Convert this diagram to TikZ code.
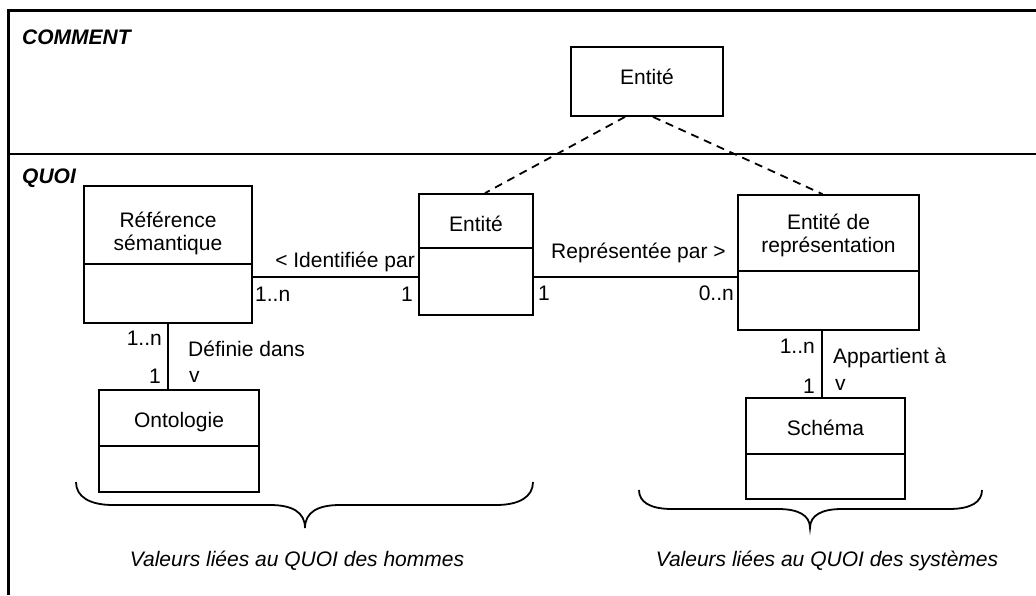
\documentclass[tikz,border=0pt]{standalone}
\usepackage{fontspec}
\setmainfont{Liberation Sans}
\begin{document}
\begin{tikzpicture}[x=1pt,y=-1pt,
  cls/.style={draw, line width=1.8pt, rectangle, inner sep=0pt},
  frm/.style={line width=2.6pt},
  sep/.style={line width=2pt},
  conn/.style={line width=1.8pt},
  dep/.style={line width=1.8pt, dash pattern=on 8pt off 6pt},
  lbl/.style={inner sep=0pt, font=\fontsize{21}{23}\selectfont, align=center},
  ttl/.style={inner sep=0pt, font=\fontsize{21}{23}\selectfont\bfseries\itshape},
  captxt/.style={inner sep=0pt, font=\fontsize{21}{23}\selectfont\itshape},
  brc/.style={line width=1.8pt}
]
\useasboundingbox (0,0) rectangle (1036,595);

% frame
\draw[frm] (1036,10.5) -- (8.7,10.5) -- (8.7,595);
\draw[sep] (8.7,154.3) -- (1036,154.3);
\node[ttl, anchor=base west] (comment) at (22,44) {COMMENT};
\node[ttl, anchor=base west] (quoi) at (22,183) {QUOI};

% boxes
\node[cls, minimum width=152pt, minimum height=69pt] (top) at (647,81.5) {};
\node[lbl, anchor=base] (toptxt) at (647,84) {Entité};

\node[cls, minimum width=168pt, minimum height=137pt] (ref) at (168,254.5) {};
\draw[conn] (84,264) -- (252,264);
\node[lbl] (reftxt) at (168,233) {Référence\\sémantique};

\node[cls, minimum width=114pt, minimum height=121pt] (ent) at (476,254.5) {};
\draw[conn] (419,248) -- (533,248);
\node[lbl, anchor=base] (enttxt) at (476,231) {Entité};

\node[cls, minimum width=181pt, minimum height=135pt] (rep) at (828.5,262.5) {};
\draw[conn] (738,271) -- (919,271);
\node[lbl] (reptxt) at (828.5,235) {Entité de\\représentation};

\node[cls, minimum width=160pt, minimum height=102pt] (onto) at (179,441) {};
\draw[conn] (99,446) -- (259,446);
\node[lbl, anchor=base] (ontotxt) at (179,427) {Ontologie};

\node[cls, minimum width=159pt, minimum height=101pt] (sch) at (825.5,448.5) {};
\draw[conn] (746,454) -- (905,454);
\node[lbl, anchor=base] (schtxt) at (825.5,435) {Schéma};

% dependencies
\draw[dep] ([xshift=-22pt]top.south) -- ([xshift=9pt]ent.north);
\draw[dep] ([xshift=6pt]top.south) -- ([xshift=-6pt]rep.north);

% associations
\draw[conn] ([yshift=-22.5pt]ref.east) -- ([yshift=-22.5pt]ent.west);
\draw[conn] ([yshift=-22.5pt]ent.east) -- ([yshift=-22.5pt]ent.east -| rep.west);
\draw[conn] (ref.south) -- (ref.south |- onto.north);
\draw[conn] ([xshift=-3.5pt]sch.north |- rep.south) -- ([xshift=-3.5pt]sch.north);

% association labels
\node[lbl, anchor=base east] (l1) at (415,267) {< Identifiée par};
\node[lbl, anchor=base west] (l2) at (551,258) {Représentée par >};
\node[lbl, anchor=base west] (m1) at (255,301) {1..n};
\node[lbl, anchor=base east] (m2) at (413,301) {1};
\node[lbl, anchor=base west] (m3) at (538,300) {1};
\node[lbl, anchor=base east] (m4) at (734,300) {0..n};

\node[lbl, anchor=base east] (m5) at (162,345) {1..n};
\node[lbl, anchor=base east] (m6) at (161,383) {1};
\node[lbl, anchor=base west] (l3) at (188,356) {Définie dans};
\node[lbl, anchor=base west] (l4) at (189,382) {v};

\node[lbl, anchor=base east] (m7) at (815,353) {1..n};
\node[lbl, anchor=base east] (m8) at (815,393) {1};
\node[lbl, anchor=base west] (l5) at (833,363) {Appartient à};
\node[lbl, anchor=base west] (l6) at (835,390) {v};

% braces
\draw[brc] (76,482) .. controls (76,497) and (90,505) .. (113,505) -- (270,505)
  .. controls (292,505) and (305,512) .. (305,528)
  .. controls (305,512) and (318,505) .. (340,505) -- (496,505)
  .. controls (519,505) and (533,497) .. (533,482);
\draw[brc] (639,490) .. controls (639,502) and (650,509) .. (672,509) -- (778,509)
  .. controls (798,509) and (810,515) .. (810,528)
  .. controls (810,515) and (822,509) .. (842,509) -- (949,509)
  .. controls (971,509) and (982,502) .. (982,490);

\node[captxt, anchor=base] (c1) at (297,566) {Valeurs liées au QUOI des hommes};
\node[captxt, anchor=base] (c2) at (827,566) {Valeurs liées au QUOI des systèmes};
\end{tikzpicture}
\end{document}
